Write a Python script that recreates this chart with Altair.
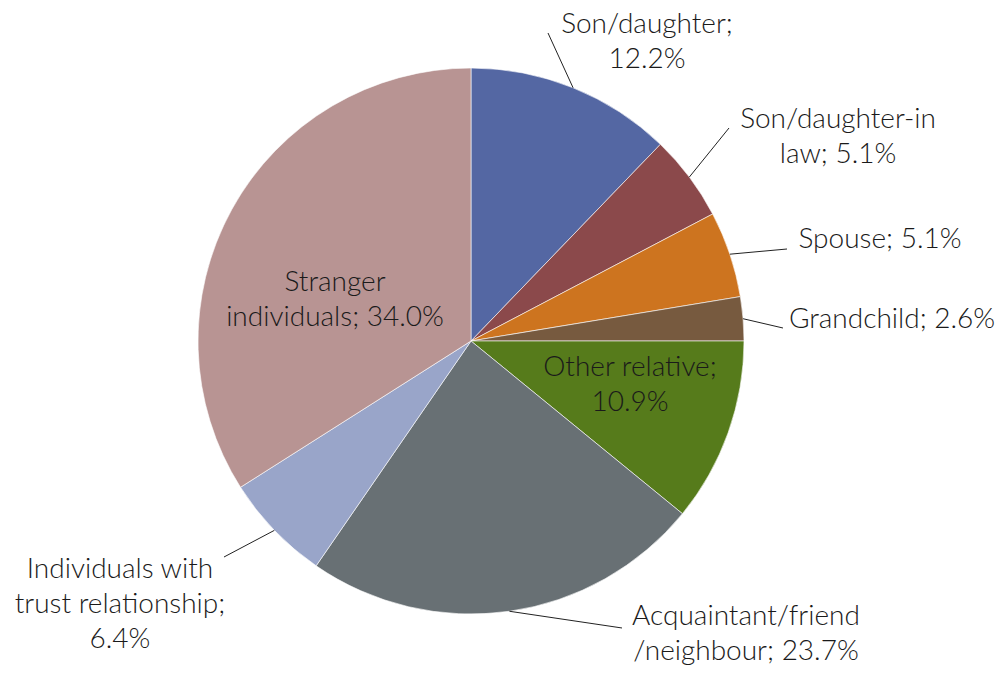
import math
import altair as alt
import pandas as pd

# ---- data ----
categories = [
    "Son/daughter", "Son/daughter-in law", "Spouse", "Grandchild",
    "Other relative", "Acquaintant/friend/neighbour",
    "Individuals with trust relationship", "Stranger individuals",
]
shares = [12.2, 5.1, 5.1, 2.6, 10.9, 23.7, 6.4, 34.0]
label_texts = [
    "Son/daughter;\n12.2%",
    "Son/daughter-in\nlaw; 5.1%",
    "Spouse; 5.1%",
    "Grandchild; 2.6%",
    "Other relative;\n10.9%",
    "Acquaintant/friend\n/neighbour; 23.7%",
    "Individuals with\ntrust relationship;\n6.4%",
    "Stranger\nindividuals; 34.0%",
]

# ---- styles / layout ----
colors = ["#5467a3", "#8b494b", "#cd741f", "#775a3f", "#567b1b",
          "#687074", "#99a5c9", "#b89493"]
W, H = 989, 657
CX, CY, R = 463, 333, 273
# first-line centers of label blocks (plot pixel space) and leader-line label ends
label_pos = [(639, 17), (830, 112), (872, 232), (884, 312), (622, 360),
             (738, 609), (112, 562), (327, 275)]
leader_end = [(540, 25), (721, 120), (779, 241), (775, 320), None,
              (614, 620), (216, 549), None]

rows = []
cum = 0.0
total = sum(shares)
for i, (c, s, t) in enumerate(zip(categories, shares, label_texts)):
    mid = (cum + s / 2) / total * 2 * math.pi
    cum += s
    px = CX + R * math.sin(mid)
    py = CY - R * math.cos(mid)
    le = leader_end[i]
    rows.append({
        "order": i, "category": c, "share": s, "label": t,
        "lx": label_pos[i][0], "ly": label_pos[i][1],
        "px": px, "py": py,
        "ex": le[0] if le else px, "ey": le[1] if le else py,
        "lead": 1 if le else 0,
    })
df = pd.DataFrame(rows)

xs = alt.Scale(domain=[0, W], range=[0, W])
ys = alt.Scale(domain=[0, H], range=[0, H])

base = alt.Chart(df)

pie = base.mark_arc(outerRadius=R, stroke="white", strokeWidth=0.6).encode(
    theta=alt.Theta("share:Q", stack=True),
    order=alt.Order("order:Q"),
    color=alt.Color("category:N", scale=alt.Scale(domain=categories, range=colors), legend=None),
    x=alt.value(CX),
    y=alt.value(CY),
)

leaders = base.transform_filter("datum.lead == 1").mark_rule(color="#222222", strokeWidth=1).encode(
    x=alt.X("px:Q", scale=xs, axis=None),
    y=alt.Y("py:Q", scale=ys, axis=None),
    x2="ex:Q",
    y2="ey:Q",
)

labels = base.mark_text(
    font="Lato", fontSize=28, fontWeight=300, color="#1a1a1a", align="center",
    baseline="middle", lineBreak="\n", lineHeight=35,
).encode(
    x=alt.X("lx:Q", scale=xs, axis=None),
    y=alt.Y("ly:Q", scale=ys, axis=None),
    text="label:N",
)

chart = alt.layer(pie, leaders, labels).properties(
    width=W, height=H, autosize=alt.AutoSizeParams(type="none"), padding=0
).configure_view(stroke=None)

chart.save("out.html", embed_options={"renderer": "svg", "actions": False})
